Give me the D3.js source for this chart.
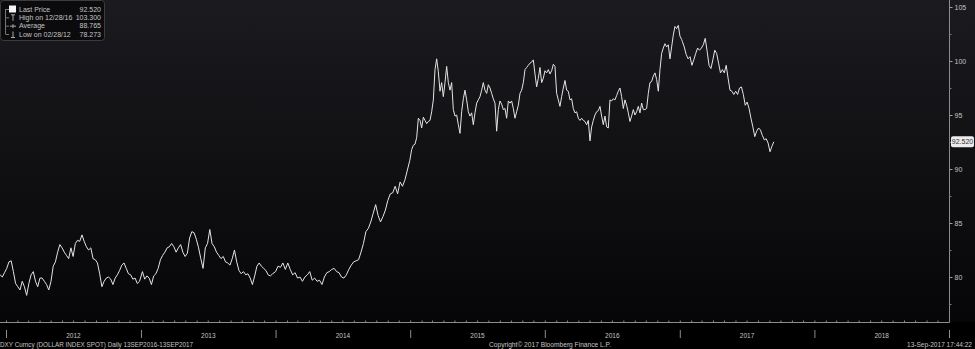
<!DOCTYPE html>
<html>
<head>
<meta charset="UTF-8">
<title>DXY Curncy (DOLLAR INDEX SPOT)</title>
<script src="https://cdn.jsdelivr.net/npm/d3@7"></script>
<style>
  html, body { margin: 0; padding: 0; background: #000; }
  svg { display: block; }
</style>
</head>
<body>
<script>
// start / end date of each stretch of readings below (values spread evenly inside a stretch)
var spanDates = [
  ["2011-12-16", "2012-12-28"],
  ["2013-01-05", "2013-12-24"],
  ["2014-01-01", "2014-12-31"],
  ["2015-01-05", "2017-01-06"],
  ["2017-01-08", "2017-09-13"]
];

// DXY levels
var dxy2012 = [80.2, 80.0, 80.4, 80.8, 81.4, 81.5, 80.5, 79.4, 79.1, 78.8, 79.6, 79.1, 78.3, 79.4, 80.2, 80.5,
  79.6, 79.1, 79.9, 79.9, 79.6, 79.3, 78.8, 79.6, 81.0, 81.4, 82.3, 83.0, 82.7, 82.3, 82.0, 81.7, 82.7, 81.9,
  83.1, 83.4, 83.3, 83.9, 83.3, 82.8, 82.5, 82.7, 81.7, 81.6, 81.3, 80.3, 79.1, 79.6, 79.9, 80.0, 79.8, 79.3,
  79.9, 80.2, 80.6, 81.1, 81.3, 80.8, 80.3, 80.2, 79.8, 79.9, 79.4, 79.6];

var dxy2013 = [80.5, 79.8, 80.1, 79.9, 79.3, 80.1, 80.3, 80.8, 81.6, 82.0, 82.3, 82.7, 82.8, 83.1, 82.8, 82.3,
  82.7, 83.0, 82.3, 81.9, 82.2, 83.6, 84.2, 84.1, 83.5, 82.7, 81.7, 80.8, 82.7, 83.1, 84.4, 83.1, 82.8, 82.3,
  82.0, 81.7, 81.9, 81.4, 81.3, 81.1, 81.7, 82.5, 81.4, 80.6, 80.3, 80.5, 80.2, 80.3, 79.9, 79.3, 80.1, 81.0,
  81.3, 81.0, 80.8, 80.6, 80.2, 80.1, 80.3];

var dxy2014 = [80.5, 81.0, 80.9, 81.3, 80.7, 81.3, 80.7, 80.2, 80.4, 79.9, 80.0, 79.6, 80.0, 80.2, 80.5, 79.7,
  79.9, 79.6, 79.7, 79.3, 80.0, 80.4, 80.5, 80.7, 80.8, 80.5, 80.4, 80.0, 79.9, 80.2, 80.7, 81.1, 81.4, 81.5,
  81.6, 82.3, 83.1, 84.2, 84.5, 85.1, 85.9, 86.7, 85.7, 85.1, 85.6, 86.2, 87.1, 87.7, 87.8, 88.4, 87.7, 88.8,
  88.4, 89.0, 89.9, 90.8];

var dxy2015to2016 = [91.8, 92.2, 92.3, 92.9, 94.7, 94.5, 93.8, 94.8, 94.5, 94.2, 94.4, 94.5, 95.3, 96.4, 99.2,
  100.2, 99.0, 97.2, 98.0, 96.7, 98.0, 99.5, 98.0, 97.3, 98.0, 95.5, 94.9, 95.0, 94.1, 93.3, 95.3, 96.5, 97.3,
  96.4, 95.3, 94.9, 95.2, 94.1, 95.2, 96.1, 96.4, 96.7, 97.3, 98.0, 97.3, 97.0, 97.8, 97.5, 97.0, 96.5, 96.1,
  93.5, 95.5, 96.3, 96.0, 95.5, 95.6, 94.7, 96.3, 96.1, 96.3, 95.6, 94.7, 95.3, 95.9, 97.0, 97.3, 98.0, 99.2,
  99.4, 99.6, 99.8, 99.9, 100.1, 98.8, 97.6, 98.4, 99.4, 98.0, 98.4, 99.1, 98.9, 99.2, 98.8, 99.1, 99.7, 99.5,
  97.0, 96.4, 95.8, 96.7, 97.5, 98.2, 97.3, 97.2, 96.4, 96.5, 95.6, 95.2, 95.3, 94.7, 94.5, 94.7, 94.5, 94.4,
  94.1, 94.5, 92.6, 93.9, 94.5, 95.0, 95.3, 95.4, 95.8, 94.9, 94.1, 94.9, 93.9, 93.8, 96.4, 96.3, 96.5, 96.4,
  96.8, 97.2, 97.5, 96.7, 95.6, 96.4, 95.9, 95.2, 94.4, 94.9, 95.5, 95.0, 95.3, 95.8, 95.2, 96.1, 95.5, 95.5,
  95.6, 97.0, 98.0, 98.1, 98.6, 98.9, 98.3, 97.2, 99.2, 100.7, 101.2, 101.6, 101.3, 101.5, 100.2, 101.3, 102.4,
  103.2, 103.0, 103.3, 102.3, 102.0];

var dxy2017 = [101.8, 101.3, 100.6, 100.2, 100.4, 99.6, 100.1, 100.7, 101.2, 101.0, 101.2, 101.5, 102.1, 100.9,
  99.6, 99.3, 100.1, 101.0, 100.7, 99.8, 98.9, 99.2, 98.9, 99.6, 98.4, 97.3, 97.2, 96.9, 97.2, 96.9, 97.5,
  97.6, 96.9, 95.9, 96.2, 95.6, 94.7, 93.9, 93.0, 93.5, 93.8, 93.6, 93.1, 92.7, 92.8, 92.4, 91.6, 92.1, 92.52];

var yearLabels = ["2012", "2013", "2014", "2015", "2016", "2017", "2018"];
var priceTicks = [80, 85, 90, 95, 100, 105];
var priceMinorTicks = [77.5, 82.5, 87.5, 92.5, 97.5, 102.5];
var lastPrice = 92.52;

var legendLabels = ["Last Price", "High on 12/28/16", "Average", "Low on 02/28/12"];
var legendValues = ["92.520", "103.300", "88.765", "78.273"];

var footerLeft = "DXY Curncy (DOLLAR INDEX SPOT)  Daily 13SEP2016-13SEP2017";
var footerMid = "Copyright\u00a9 2017 Bloomberg Finance L.P.";
var footerRight = "13-Sep-2017 17:44:22";

var W = 975, H = 349;
var FONT = "'Liberation Sans', Arial, sans-serif";
var TXT = "#c4c4c4";

var svg = d3.select("body").append("svg")
  .attr("width", W)
  .attr("height", H)
  .style("font-family", FONT);

// background gradient
var grad = svg.append("defs").append("linearGradient")
  .attr("id", "bg").attr("x1", 0).attr("y1", 0).attr("x2", 0).attr("y2", 1);
grad.append("stop").attr("offset", "0%").attr("stop-color", "#1b1b1f");
grad.append("stop").attr("offset", "100%").attr("stop-color", "#060608");

svg.append("rect").attr("width", W).attr("height", H).attr("fill", "#000");
svg.append("rect").attr("width", W).attr("height", 322).attr("fill", "url(#bg)");

// scales
var x = d3.scaleTime()
  .domain([new Date(2012, 0, 1), new Date(2019, 0, 1)])
  .range([6, 949]);
var y = d3.scaleLinear()
  .domain([80, 105])
  .range([277, 7]);

// build the series
var parse = d3.timeParse("%Y-%m-%d");
var segments = [dxy2012, dxy2013, dxy2014, dxy2015to2016, dxy2017];
var points = [];
segments.forEach(function (vals, s) {
  var t0 = parse(spanDates[s][0]).getTime();
  var t1 = parse(spanDates[s][1]).getTime();
  vals.forEach(function (v, i) {
    points.push({ date: new Date(t0 + (t1 - t0) * i / (vals.length - 1)), value: v });
  });
});

var line = d3.line()
  .x(function (d) { return x(d.date); })
  .y(function (d) { return y(d.value); });

svg.append("path")
  .datum(points)
  .attr("fill", "none")
  .attr("stroke", "#e4e4e4")
  .attr("stroke-width", 1)
  .attr("stroke-linejoin", "round")
  .attr("d", line);

// axis lines
svg.append("line")
  .attr("x1", 949.5).attr("x2", 949.5).attr("y1", 0).attr("y2", 322.5)
  .attr("stroke", "#8c8c8c");
svg.append("line")
  .attr("x1", 0).attr("x2", 949.5).attr("y1", 322.5).attr("y2", 322.5)
  .attr("stroke", "#8c8c8c");

// right price axis
var yAxis = svg.append("g")
  .attr("transform", "translate(949.5,0)")
  .call(d3.axisRight(y).tickValues(priceTicks).tickSize(3).tickPadding(2));
yAxis.select(".domain").remove();
yAxis.selectAll("line").attr("stroke", "#a0a0a0");
yAxis.selectAll("text")
  .attr("fill", TXT)
  .style("font-size", "7px")
  .style("font-family", FONT);

var yMinor = svg.append("g")
  .attr("transform", "translate(949.5,0)")
  .call(d3.axisRight(y).tickValues(priceMinorTicks).tickSize(2).tickFormat(""));
yMinor.select(".domain").remove();
yMinor.selectAll("line").attr("stroke", "#7a7a7a");

// last price tag
var tagY = y(lastPrice);
svg.append("rect")
  .attr("x", 951).attr("y", tagY - 5.5)
  .attr("width", 23).attr("height", 11)
  .attr("rx", 2)
  .attr("fill", "#ececec");
svg.append("text")
  .attr("x", 962.5).attr("y", tagY + 2.5)
  .attr("text-anchor", "middle")
  .attr("fill", "#333")
  .style("font-size", "7px")
  .text(d3.format(".3f")(lastPrice));

// monthly ticks on the time axis
var xMinor = svg.append("g")
  .attr("transform", "translate(0,322.5)")
  .call(d3.axisTop(x)
    .tickValues(d3.timeMonth.range(new Date(2012, 0, 1), new Date(2019, 0, 1)))
    .tickSize(2).tickFormat(""));
xMinor.select(".domain").remove();
xMinor.selectAll("line").attr("stroke", "#8c8c8c");

// year separators and labels
var yearStarts = yearLabels.map(function (s) { return new Date(+s, 0, 1); })
  .concat([new Date(2019, 0, 1)]);
var xYears = svg.append("g")
  .attr("transform", "translate(0,330)")
  .call(d3.axisBottom(x).tickValues(yearStarts).tickSize(8).tickFormat(""));
xYears.select(".domain").remove();
xYears.selectAll("line").attr("stroke", "#8c8c8c");

svg.append("g").selectAll("text")
  .data(yearLabels)
  .join("text")
  .attr("x", function (d) { return (x(new Date(+d, 0, 1)) + x(new Date(+d + 1, 0, 1))) / 2; })
  .attr("y", 338)
  .attr("text-anchor", "middle")
  .attr("fill", TXT)
  .style("font-size", "6.5px")
  .text(function (d) { return d; });

// footer
svg.append("text").attr("x", 0).attr("y", 347)
  .attr("fill", TXT).style("font-size", "7px")
  .attr("textLength", 193).attr("lengthAdjust", "spacingAndGlyphs")
  .text(footerLeft);
svg.append("text").attr("x", 489).attr("y", 347)
  .attr("fill", TXT).style("font-size", "7px")
  .attr("textLength", 122).attr("lengthAdjust", "spacingAndGlyphs")
  .text(footerMid);
svg.append("text").attr("x", 907).attr("y", 347)
  .attr("fill", TXT).style("font-size", "6.5px")
  .attr("textLength", 65).attr("lengthAdjust", "spacingAndGlyphs")
  .text(footerRight);

// legend box
var legend = svg.append("g");
legend.append("rect")
  .attr("x", 0.5).attr("y", 0.5)
  .attr("width", 104).attr("height", 40)
  .attr("rx", 3)
  .attr("fill", "#0b0b0d")
  .attr("stroke", "#3c3c3c");

var rowY = d3.scalePoint().domain(legendLabels).range([9, 34]);

legend.append("line")
  .attr("x1", 5.5).attr("x2", 5.5).attr("y1", rowY(legendLabels[0])).attr("y2", rowY(legendLabels[3]))
  .attr("stroke", "#777");
legend.selectAll(".stub")
  .data(legendLabels)
  .join("line")
  .attr("class", "stub")
  .attr("x1", 5.5).attr("x2", 9)
  .attr("y1", function (d) { return rowY(d) + 0.5; })
  .attr("y2", function (d) { return rowY(d) + 0.5; })
  .attr("stroke", "#777");

// icons
legend.append("rect")
  .attr("x", 9).attr("y", rowY(legendLabels[0]) - 3.5)
  .attr("width", 7).attr("height", 7)
  .attr("fill", "#f4f4f4");
var hy = rowY(legendLabels[1]), ay = rowY(legendLabels[2]), ly = rowY(legendLabels[3]);
legend.append("path")
  .attr("d", "M11,"+(hy-2.5)+"H15M13,"+(hy-2.5)+"V"+(hy+3.5))
  .attr("stroke", "#aaa").attr("fill", "none");
legend.append("path")
  .attr("d", "M10,"+(ay+0.5)+"H16M13,"+(ay-1.5)+"V"+(ay+2.5))
  .attr("stroke", "#aaa").attr("fill", "none");
legend.append("path")
  .attr("d", "M11,"+(ly+3.5)+"H15M13,"+(ly+3.5)+"V"+(ly-2.5))
  .attr("stroke", "#aaa").attr("fill", "none");

legend.selectAll(".lab")
  .data(legendLabels)
  .join("text")
  .attr("class", "lab")
  .attr("x", 19)
  .attr("y", function (d) { return rowY(d) + 2.5; })
  .attr("fill", TXT)
  .style("font-size", "7px")
  .text(function (d) { return d; });

legend.selectAll(".val")
  .data(legendValues)
  .join("text")
  .attr("class", "val")
  .attr("x", 101)
  .attr("y", function (d, i) { return rowY(legendLabels[i]) + 2.5; })
  .attr("text-anchor", "end")
  .attr("fill", TXT)
  .style("font-size", "7px")
  .text(function (d) { return d; });
</script>
</body>
</html>
